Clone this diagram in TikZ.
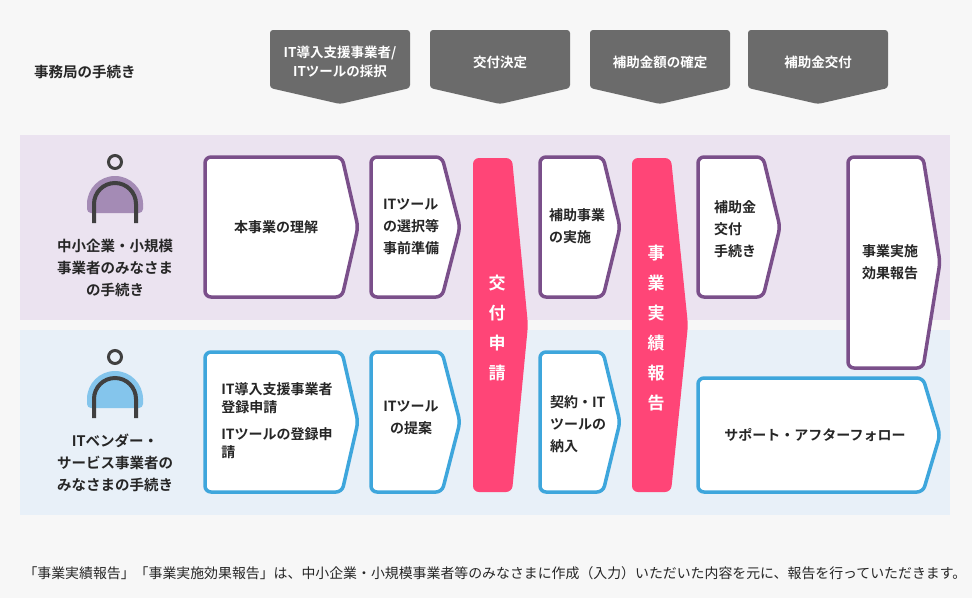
\documentclass[tikz,border=0pt]{standalone}
\usepackage{fontspec}
\newfontfamily\jp{Noto Sans CJK JP}[BoldFont={* Bold}]
\begin{document}
\begin{tikzpicture}[x=1pt,y=-1pt,
  txt/.style={font=\jp\bfseries\fontsize{14}{22}\selectfont,text=black!85,align=left},
  hdr/.style={font=\jp\bfseries\fontsize{13.5}{19}\selectfont,text=white,align=center},
  pbox/.style={draw=purp,line width=3.5pt,fill=white,rounded corners=6pt,line join=round},
  bbox/.style={draw=blu,line width=3.5pt,fill=white,rounded corners=6pt,line join=round}]
\definecolor{purp}{HTML}{7A4F8A}
\definecolor{blu}{HTML}{3EA6DC}
\definecolor{gry}{HTML}{6B6B6B}
\definecolor{redp}{HTML}{FF4577}
\definecolor{bg}{HTML}{F7F7F7}
\definecolor{pband}{HTML}{EBE3F0}
\definecolor{bband}{HTML}{E8F0F8}
\useasboundingbox (0,0) rectangle (972,598);
\fill[bg] (0,0) rectangle (972,598);
\fill[pband] (20,135) rectangle (950,320);
\fill[bband] (20,330) rectangle (950,515);
% header
\node[txt,font=\jp\bfseries\fontsize{14.5}{19}\selectfont] (jim) at (85,72) {事務局の手続き};
\foreach \a/\b/\t/\n in {270/410/{IT導入支援事業者/\\ITツールの採択}/h1,430/570/交付決定/h2,590/730/補助金額の確定/h3,748/888/補助金交付/h4}{
  \fill[gry,rounded corners=3pt] (\a,30) -- (\b,30) -- (\b,88) -- ({(\a+\b)/2},104) -- (\a,88) -- cycle;
  \node[hdr] (\n) at ({(\a+\b)/2},62) {\t};
}
% purple boxes
\draw[pbox] (205,157) -- (342,157) -- (358,227) -- (342,297) -- (205,297) -- cycle;
\node[txt] (p1) at (276,227) {本事業の理解};
\draw[pbox] (371,157) -- (442,157) -- (460,227) -- (442,297) -- (371,297) -- cycle;
\node[txt] (p2) at (411,227) {ITツール\\の選択等\\事前準備};
\draw[pbox] (540,157) -- (603,157) -- (620,227) -- (603,297) -- (540,297) -- cycle;
\node[txt] (p3) at (577,226) {補助事業\\の実施};
\draw[pbox] (698,157) -- (763,157) -- (780,227) -- (763,297) -- (698,297) -- cycle;
\node[txt] (p4) at (735,229) {補助金\\交付\\手続き};
\draw[pbox] (848,157) -- (923,157) -- (940,262) -- (923,368) -- (848,368) -- cycle;
\node[txt,align=center] (p5) at (890,262) {事業実施\\効果報告};
% blue boxes
\draw[bbox] (205,352) -- (342,352) -- (358,422) -- (342,492) -- (205,492) -- cycle;
\node[txt,font=\jp\bfseries\fontsize{14}{18}\selectfont] (b1) at (277,421) {IT導入支援事業者\\登録申請\\[9pt]ITツールの登録申\\請};
\draw[bbox] (371,352) -- (442,352) -- (460,422) -- (442,492) -- (371,492) -- cycle;
\node[txt,align=center] (b2) at (411,418) {ITツール\\の提案};
\draw[bbox] (540,352) -- (603,352) -- (620,422) -- (603,492) -- (540,492) -- cycle;
\node[txt] (b3) at (578,424) {契約・IT\\ツールの\\納入};
\draw[bbox] (698,378) -- (923,378) -- (940,435) -- (923,492) -- (698,492) -- cycle;
\node[txt] (b4) at (815,435) {サポート・アフターフォロー};
% red pillars
\fill[redp,rounded corners=6pt] (473,158) -- (512,158) -- (528,325) -- (512,492) -- (473,492) -- cycle;
\node[hdr,font=\jp\bfseries\fontsize{17}{30}\selectfont] (r1) at (497,328) {交\\付\\申\\請};
\fill[redp,rounded corners=6pt] (632,158) -- (671,158) -- (688,325) -- (671,492) -- (632,492) -- cycle;
\node[hdr,font=\jp\bfseries\fontsize{17}{30}\selectfont] (r2) at (656,328) {事\\業\\実\\績\\報\\告};
% persons
\foreach \y/\c/\n in {0/A48BB5/pa,195/84C5EC/pb}{
  \definecolor{pc}{HTML}{\c}
  \fill[pc,rounded corners=4pt] (87,{203+\y}) -- (87,{213+\y}) -- (143,{213+\y}) -- (143,{203+\y});
  \fill[pc] (87,{204+\y}) arc (180:360:28) -- cycle;
  \draw[black!75,line width=3pt] (115,{162+\y}) circle (6.5);
  \draw[black!75,line width=4pt] (94,{223+\y}) -- (94,{204+\y}) arc (180:360:21) -- (136,{223+\y});
  \coordinate (\n) at (115,{200+\y});
}
\node[txt,align=center,font=\jp\bfseries\fontsize{14.5}{22}\selectfont] (l1) at (115,268) {中小企業・小規模\\事業者のみなさま\\の手続き};
\node[txt,align=center,font=\jp\bfseries\fontsize{14.5}{22}\selectfont] (l2) at (115,463) {ITベンダー・\\サービス事業者の\\みなさまの手続き};
\node[txt,anchor=west,font=\jp\fontsize{13.9}{16}\selectfont] (fn) at (20,573) {「事業実績報告」「事業実施効果報告」は、中小企業・小規模事業者等のみなさまに作成（入力）いただいた内容を元に、報告を行っていただきます。};
\end{tikzpicture}
\end{document}
